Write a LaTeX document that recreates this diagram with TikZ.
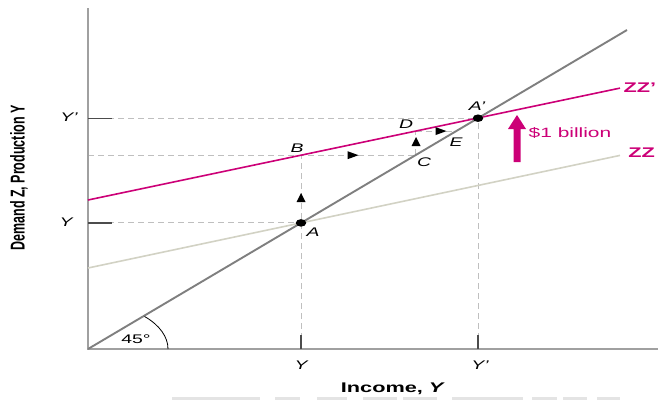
\documentclass[tikz,border=0pt]{standalone}
\usepackage{fontspec}
\setmainfont{Liberation Sans}
\usetikzlibrary{arrows.meta}
\definecolor{mag}{HTML}{CC0077}
\definecolor{ltzz}{HTML}{D2D2C4}
\definecolor{diag}{HTML}{7F7F7F}
\definecolor{axisg}{HTML}{A0A0A0}
\definecolor{barg}{HTML}{E4E4E4}
\begin{document}
\begin{tikzpicture}[x=1pt,y=-1pt,
  txt/.style={inner sep=0pt, xscale=1.55, font=\fontsize{12}{12}\selectfont},
  ptlabel/.style={txt, font=\fontsize{12.5}{12.5}\selectfont\itshape},
  guide/.style={draw=gray!50, line width=0.9pt, dash pattern=on 6pt off 4pt},
  tickmark/.style={draw=black!70, line width=1.2pt},
  dot/.style={circle, fill=black, inner sep=0pt, minimum size=7.5pt, xscale=1.4},
  uptri/.pic={\fill (-4.5,4) -- (4.5,4) -- (0,-5) -- cycle;},
  righttri/.pic={\fill (-5.5,-4) -- (5.5,0) -- (-5.5,4) -- cycle;}
]
\useasboundingbox (0,0) rectangle (658,400);

% bottom faint bars
\foreach \a/\b in {172/260,275/300,317/347,363/397,403/437,452/523,532/557,563/587,597/620}
  \fill[barg] (\a,397) rectangle (\b,400);

% key points
\coordinate (O) at (88,349);
\coordinate (yTop) at (88,8);
\coordinate (xEnd) at (658,349);
\coordinate (A) at (301,222.9);
\coordinate (Ap) at (478,118.2);
\coordinate (B) at (301,155.2);
\coordinate (C) at (415.5,155.2);
\coordinate (D) at (415.5,131.1);
\coordinate (E) at (456.2,131.1);
\coordinate (yAxAp) at (88,118.2);
\coordinate (yAxA) at (88,222.9);
\coordinate (yAxB) at (88,155.2);
\coordinate (xAxA) at (301,349);
\coordinate (xAxAp) at (478,349);
\coordinate (diagEnd) at (627,30);
\coordinate (redS) at (88,200);
\coordinate (redE) at (620,88.1);
\coordinate (zzS) at (88,268);
\coordinate (zzE) at (620,155.4);

% guides
\draw[guide] (yAxAp) -- (Ap);
\draw[guide] (yAxA) -- (A);
\draw[guide] (yAxB) -- (C);
\draw[guide] (D) -- (E);
\draw[guide] (xAxA) -- (B);
\draw[guide] (C) -- (D);
\draw[guide] (xAxAp) -- (Ap);

% axes
\draw[axisg, line width=1.2pt] (yTop) -- (O) -- (xEnd);

% ticks
\draw[tickmark] (yAxAp) -- ++(24,0);
\draw[tickmark] (yAxA) -- ++(24,0);
\draw[tickmark] (xAxA) -- ++(0,-14);
\draw[tickmark] (xAxAp) -- ++(0,-14);

% lines
\draw[ltzz, line width=1.6pt] (zzS) -- (zzE);
\draw[mag, line width=1.6pt] (redS) -- (redE);
\draw[diag, line width=1.9pt] (O) -- (diagEnd);

% 45 arc
\draw[black, line width=0.8pt] (168,349) arc[start angle=0, end angle=-45, x radius=80, y radius=46];
\node[txt, font=\fontsize{12.5}{12.5}\selectfont] (ang) at (136,339) {45°};

% small arrows
\pic at (301,198) {uptri};
\pic at (416,142) {uptri};
\pic at (353,155.2) {righttri};
\pic at (441,131.1) {righttri};

% dots
\node[dot] (dA) at (A) {};
\node[dot] (dAp) at (Ap) {};

% point labels
\node[ptlabel] (lA) at (313,232) {A};
\node[ptlabel] (lAp) at (477,106) {A’};
\node[ptlabel] (lB) at (297,148) {B};
\node[ptlabel] (lC) at (424,162) {C};
\node[ptlabel] (lD) at (406,124) {D};
\node[ptlabel] (lE) at (456,142) {E};

% axis value labels
\node[ptlabel] (lYp) at (69,117) {Y’};
\node[ptlabel] (lY) at (66,222) {Y};
\node[ptlabel] (lxY) at (301,365) {Y};
\node[ptlabel] (lxYp) at (480,365) {Y’};

% axis titles
\node[txt, font=\fontsize{14}{14}\selectfont\bfseries] (xt) at (393,389) {Income, \textit{Y}};
\node[inner sep=0pt, xscale=1.6, rotate=90, font=\fontsize{12.5}{12.5}\selectfont\bfseries] (yt) at (19,178) {Demand Z, Production Y};

% shift arrow
\fill[mag] (513.5,162) -- (520.5,162) -- (520.5,129) -- (526,129) -- (517,115) -- (508,129) -- (513.5,129) -- cycle;
\node[txt, text=mag, font=\fontsize{13.5}{13.5}\selectfont] (bil) at (570,133) {\$1 billion};

% ZZ labels
\node[txt, anchor=east, text=mag, font=\fontsize{14}{14}\selectfont\bfseries] (zz1) at (656.5,88) {ZZ’};
\node[txt, anchor=west, text=mag, font=\fontsize{14}{14}\selectfont\bfseries] (zz2) at (628,153) {ZZ};
\end{tikzpicture}
\end{document}
